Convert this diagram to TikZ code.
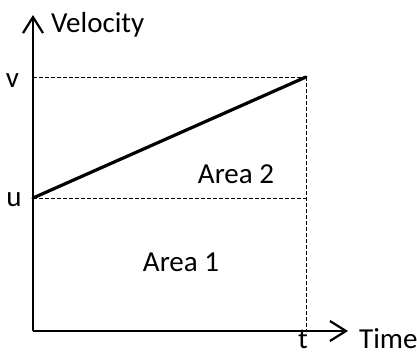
\documentclass[tikz,border=0pt]{standalone}
\usepackage{fontspec}
\setmainfont{Carlito}
\usetikzlibrary{arrows.meta, positioning}

\begin{document}
\begin{tikzpicture}[x=1pt, y=1pt,
    axis/.style={draw, line width=2.2pt, -{Straight Barb[length=16pt, width=20pt, line width=2.2pt]}},
    guide/.style={draw, line width=0.8pt, dash pattern=on 4pt off 2pt},
    graph/.style={draw, line width=3.2pt, line cap=round},
    lbl/.style={inner sep=0pt, font=\fontsize{29}{34}\selectfont}]
    \useasboundingbox (0,0) rectangle (417,354);
    % points of the graph
    \coordinate (origin) at (33,23);
    \coordinate (ytop) at (33,339);
    \coordinate (xend) at (348,23);
    \coordinate (uy) at (33,156);
    \coordinate (vy) at (33,277);
    \coordinate (vt) at (306,277);
    \coordinate (tx) at (306,23);
    \path [axis] (origin) -- (ytop);
    \path [axis] (origin) -- (xend);
    \path [guide] (vy) -- (vt);
    \path [guide] (uy) -- (uy -| vt);
    \path [guide] (vt) -- (tx);
    \path [graph] (uy) -- (vt);
    \node [lbl, anchor=base west] (vel) at (51,321) {Velocity};
    \node [lbl, anchor=base] (vlab) at (12.5,266) {v};
    \node [lbl, anchor=base] (ulab) at (14,148) {u};
    \node [lbl, anchor=base] (tlab) at (303,6) {t};
    \node [lbl, anchor=base west] (time) at (359,6) {Time};
    \node [lbl] (area2) at (236,180) {Area 2};
    \node [lbl] (area1) at (181,92) {Area 1};
\end{tikzpicture}
\end{document}
